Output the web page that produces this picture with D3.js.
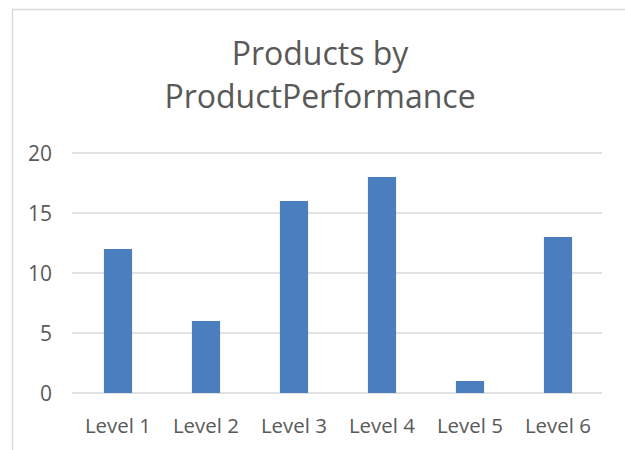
<!DOCTYPE html>
<html><head><meta charset="utf-8">
<script src="https://cdn.jsdelivr.net/npm/d3@7"></script>
<style>body{margin:0;background:#fff;}svg{display:block;}</style>
</head><body>
<script>
const categories = ["Level 1","Level 2","Level 3","Level 4","Level 5","Level 6"];
const values = [12, 6, 16, 18, 1, 13];
const yTicks = [0, 5, 10, 15, 20];
const titleLines = ["Products by", "ProductPerformance"];

const W = 625, H = 450;
const svg = d3.select("body").append("svg").attr("width", W).attr("height", H);
svg.append("rect").attr("width", W).attr("height", H).attr("fill", "#fff");
// chart frame (extends beyond the picture on right and bottom)
svg.append("rect").attr("x", 12.5).attr("y", 9.5).attr("width", 700).attr("height", 500)
  .attr("fill", "none").attr("stroke", "#d9d9d9").attr("stroke-width", 1.5);

const font = "'Open Sans', sans-serif";
const textColor = "#595959";

const title = svg.append("text").attr("text-anchor", "middle").attr("font-family", font)
  .attr("font-size", 32).attr("fill", textColor);
title.selectAll("tspan").data(titleLines).join("tspan")
  .attr("x", 320).attr("y", (d, i) => 65 + i * 43).text(d => d);

const x = d3.scaleBand().domain(categories).range([74, 602]).paddingInner(0.68).paddingOuter(0.34);
const y = d3.scaleLinear().domain([0, 20]).range([393, 153]);

// gridlines
svg.append("g").selectAll("line").data(yTicks).join("line")
  .attr("x1", 72).attr("x2", 602).attr("y1", d => y(d)).attr("y2", d => y(d))
  .attr("stroke", "#d9d9d9").attr("stroke-width", 1.3);

// bars
svg.append("g").selectAll("rect").data(values).join("rect")
  .attr("x", (d, i) => x(categories[i])).attr("width", x.bandwidth())
  .attr("y", d => y(d)).attr("height", d => y(0) - y(d))
  .attr("fill", "#4a7ebf");

// y axis
const yAxis = svg.append("g").attr("transform", "translate(52,0)")
  .call(d3.axisLeft(y).tickValues(yTicks).tickSize(0).tickPadding(0));
yAxis.select(".domain").remove();
yAxis.selectAll("text").attr("font-family", font).attr("font-size", 21).attr("fill", textColor)
  .attr("dy", "0.36em");

// x axis
const xAxis = svg.append("g").attr("transform", "translate(0,393)")
  .call(d3.axisBottom(x).tickSize(0).tickPadding(0));
xAxis.select(".domain").remove();
xAxis.selectAll("text").attr("font-family", font).attr("font-size", 20.5).attr("fill", textColor)
  .attr("dy", null).attr("y", 40);
</script>
</body></html>
